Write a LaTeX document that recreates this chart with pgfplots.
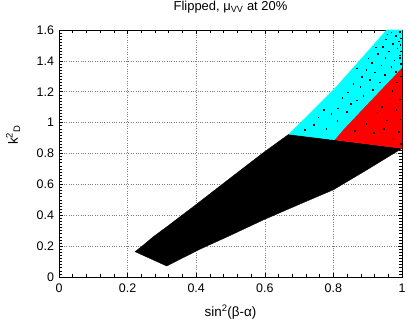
\documentclass[border=0pt]{standalone}
\usepackage{pgfplots}
\pgfplotsset{compat=1.18}
\usepackage{fontspec}
\setmainfont{Liberation Sans}
\begin{document}
\begin{tikzpicture}
\useasboundingbox (-59bp,-49bp) rectangle (348bp,277bp);
\begin{axis}[
  scale only axis, width=343bp, height=247bp,
  xmin=0, xmax=1, ymin=0, ymax=1.6,
  xtick={0,0.2,...,1}, ytick={0,0.2,...,1.6},
  minor x tick num=4, minor y tick num=9,
  tick align=inside, tick pos=both,
  tick style={black, line width=0.6pt},
  grid=major, major grid style={gray, dotted, line width=0.6pt},
  axis line style={black, line width=0.8pt},
  /pgf/number format/assume math mode=true,
  ticklabel style={font=\fontsize{12.5}{14}\selectfont},
  label style={font=\fontsize{13.5}{15}\selectfont},
  title style={font=\fontsize{13}{15}\selectfont, inner sep=0pt, at={(0.5,1)}, anchor=base, yshift=14bp},
  title={Flipped, μ\textsubscript{VV} at 20\%},
  xlabel={sin\textsuperscript{2}(β-α)},
  ylabel={k\textsuperscript{2}\textsubscript{D}},
  xlabel style={at={(axis description cs:0.5,-0.142)}, anchor=center},
  ylabel style={at={(axis description cs:-0.134,0.575)}, anchor=center},
  yticklabel style={/pgf/number format/fixed, xshift=-1.5bp},
  xticklabel style={/pgf/number format/fixed, yshift=-3bp},
]
% black region
\addplot[fill=black, draw=black, line width=0.3pt] coordinates {
 (0.2216,0.164) (0.245,0.205) (0.275,0.261) (0.314,0.325) (0.40,0.47) (0.50,0.642)
 (0.596,0.806) (0.670,0.925) (1,0.833)
 (0.897,0.693) (0.80,0.565) (0.70,0.47) (0.596,0.37) (0.50,0.27) (0.411,0.18) (0.314,0.071)
} --cycle;
% cyan region
\addplot[fill={rgb,255:red,0;green,255;blue,255}, draw={rgb,255:red,0;green,255;blue,255}, line width=0.3pt] coordinates {
 (0.670,0.925) (0.732,1.06) (0.80,1.211) (0.878,1.406) (0.955,1.6) (1,1.6) (1,1.352) (0.907,1.135) (0.829,0.952) (0.805,0.888)
} --cycle;
% red region
\addplot[fill=red, draw=red, line width=0.3pt] coordinates {
 (0.805,0.888) (0.829,0.952) (0.907,1.135) (1,1.352) (1,0.833)
} --cycle;
% scattered black points
\addplot[only marks, mark=square*, mark size=0.3pt, black] coordinates {
 (0.968,1.587) (0.981,1.562) (0.952,1.541) (0.991,1.528) (0.973,1.512) (0.944,1.493)
 (0.986,1.481) (0.962,1.463) (0.929,1.447) (0.994,1.436) (0.951,1.421) (0.977,1.404)
 (0.912,1.388) (0.939,1.372) (0.968,1.361) (0.896,1.343) (0.921,1.327) (0.868,1.352)
 (0.949,1.312) (0.883,1.296) (0.905,1.277) (0.935,1.262) (0.858,1.251) (0.878,1.232)
 (0.914,1.214) (0.842,1.198) (0.868,1.146) (0.887,1.175) (0.826,1.163) (0.851,1.121)
 (0.813,1.094) (0.838,1.071) (0.793,1.057) (0.771,1.082) (0.756,1.034) (0.811,1.012)
 (0.742,0.988) (0.779,0.962) (0.716,0.953) (0.993,1.588) (0.996,1.547) (0.995,1.505)
 (0.997,1.463) (0.994,1.422) (0.996,1.381) (0.957,1.573) (0.923,1.489) (0.901,1.418)
 (0.941,1.103) (0.955,1.017) (0.985,1.262) (0.972,1.208) (0.993,1.153) (0.963,1.151)
 (0.928,1.066) (0.983,1.084) (0.995,1.021) (0.947,0.962) (0.991,0.941) (0.974,0.897)
 (0.896,0.992) (0.918,0.934) (0.862,0.948) (0.997,0.865) (0.981,1.331) (0.996,1.301)
};
\end{axis}
\end{tikzpicture}
\end{document}
